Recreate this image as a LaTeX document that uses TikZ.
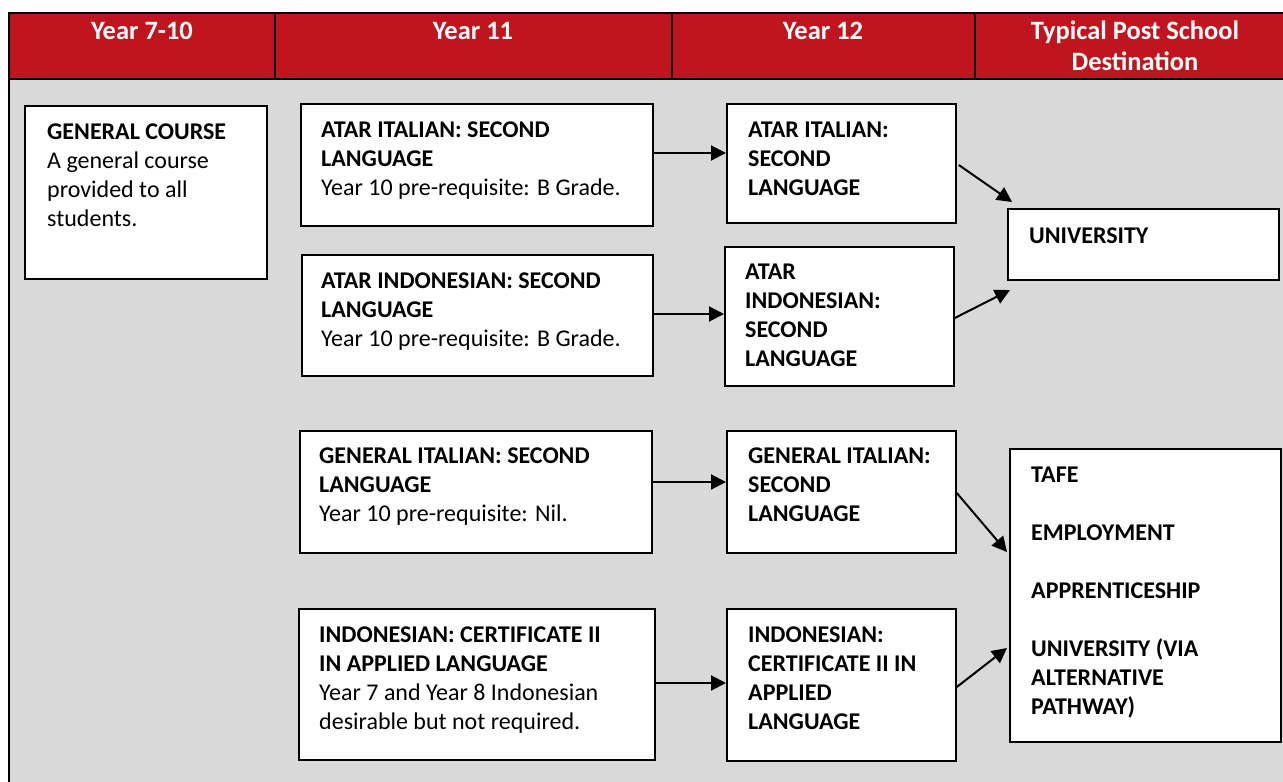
\documentclass[tikz,border=0pt]{standalone}
\usepackage{fontspec}
\setmainfont{Carlito}
\usetikzlibrary{arrows.meta}
\definecolor{hdrred}{RGB}{192,20,30}
\definecolor{bggrey}{RGB}{217,217,217}
\tikzset{
  panel/.style={draw=black, line width=1.8pt, fill=white, anchor=north west, inner sep=0pt},
  txt/.style={anchor=north west, inner sep=0pt, align=left, font=\fontsize{24}{29}\selectfont, text=black},
  hdr/.style={anchor=north, align=center, text=white, inner sep=0pt, font=\fontsize{26.5}{31}\selectfont\bfseries},
  arr/.style={-{Triangle[length=15pt,width=15pt]}, line width=2pt},
  frame/.style={line width=2pt, draw=black},
}
% name, x1, y1, x2, y2
\newcommand\panelbox[5]{%
  \node[panel, minimum width={#4-#2}, minimum height={#5-#3}] (#1) at (#2,#3) {};}
% name, x, first-line centre y, text
\newcommand\paneltext[4]{%
  \node[txt] (#1) at (#2,{#3-12.6}) {\strut #4};}
\begin{document}
\begin{tikzpicture}[x=1pt,y=-1pt]
\useasboundingbox (0,0) rectangle (1283,782);
\clip (0,0) rectangle (1283,782);
% background and header
\fill[bggrey] (9,79) rectangle (1290,790);
\fill[hdrred] (9,13) rectangle (1290,79);
\draw[frame] (9,790) -- (9,13) -- (1290,13);
\draw[frame] (9,79) -- (1290,79);
\foreach \xx in {275,672,975} \draw[frame] (\xx,13) -- (\xx,79);
\node[hdr] (h1) at (142,17.8) {\strut Year 7-10};
\node[hdr] (h2) at (473,17.8) {\strut Year 11};
\node[hdr] (h3) at (823,17.8) {\strut Year 12};
\node[hdr] (h4) at (1135,17.8) {\strut Typical Post School\\Destination};
% boxes
\panelbox{gen}{24}{105}{266}{278}
\panelbox{ya}{300}{103}{652}{225}
\panelbox{yb}{301}{254}{652}{375}
\panelbox{yc}{299}{430}{651}{552}
\panelbox{yd}{298}{608}{654}{759}
\panelbox{za}{726}{103}{955}{222}
\panelbox{zb}{724}{246}{953}{385}
\panelbox{zc}{726}{430}{955}{552}
\panelbox{zd}{726}{608}{955}{760}
\panelbox{uni}{1007}{208}{1278}{279}
\panelbox{dest}{1009}{448}{1280}{741}
% texts
\paneltext{gent}{47}{132}{\textbf{GENERAL COURSE}\\A general course\\provided to all\\students.}
\paneltext{yat}{321}{130}{\textbf{ATAR ITALIAN: SECOND}\\\textbf{LANGUAGE}\\Year 10 pre-requisite: B Grade.}
\paneltext{ybt}{321}{281}{\textbf{ATAR INDONESIAN: SECOND}\\\textbf{LANGUAGE}\\Year 10 pre-requisite: B Grade.}
\paneltext{yct}{319}{456}{\textbf{GENERAL ITALIAN: SECOND}\\\textbf{LANGUAGE}\\Year 10 pre-requisite: Nil.}
\paneltext{ydt}{319}{635}{\textbf{INDONESIAN: CERTIFICATE II}\\\textbf{IN APPLIED LANGUAGE}\\Year 7 and Year 8 Indonesian\\desirable but not required.}
\paneltext{zat}{748}{130}{\textbf{ATAR ITALIAN:}\\\textbf{SECOND}\\\textbf{LANGUAGE}}
\paneltext{zbt}{745}{272}{\textbf{ATAR}\\\textbf{INDONESIAN:}\\\textbf{SECOND}\\\textbf{LANGUAGE}}
\paneltext{zct}{748}{456}{\textbf{GENERAL ITALIAN:}\\\textbf{SECOND}\\\textbf{LANGUAGE}}
\paneltext{zdt}{748}{635}{\textbf{INDONESIAN:}\\\textbf{CERTIFICATE II IN}\\\textbf{APPLIED}\\\textbf{LANGUAGE}}
\paneltext{unit}{1029}{236}{\textbf{UNIVERSITY}}
\paneltext{destt}{1031}{475}{\textbf{TAFE}\\[29pt]\textbf{EMPLOYMENT}\\[29pt]\textbf{APPRENTICESHIP}\\[29pt]\textbf{UNIVERSITY (VIA}\\\textbf{ALTERNATIVE}\\\textbf{PATHWAY)}}
% arrows
\draw[arr] (ya.east |- 0,153) -- (za.west |- 0,153);
\draw[arr] (yb.east |- 0,314) -- (zb.west |- 0,314);
\draw[arr] (yc.east |- 0,482) -- (zc.west |- 0,482);
\draw[arr] (yd.east |- 0,683) -- (zd.west |- 0,683);
\coordinate (uniA) at (1012,202);
\coordinate (uniB) at (1010,290);
\coordinate (destA) at (1007,552);
\coordinate (destB) at (1007,648);
\draw[arr] ([xshift=2pt]za.east |- 0,165) -- (uniA);
\draw[arr] (zb.east |- 0,318) -- (uniB);
\draw[arr] (zc.east |- 0,493) -- (destA);
\draw[arr] (zd.east |- 0,687) -- (destB);
\end{tikzpicture}
\end{document}
